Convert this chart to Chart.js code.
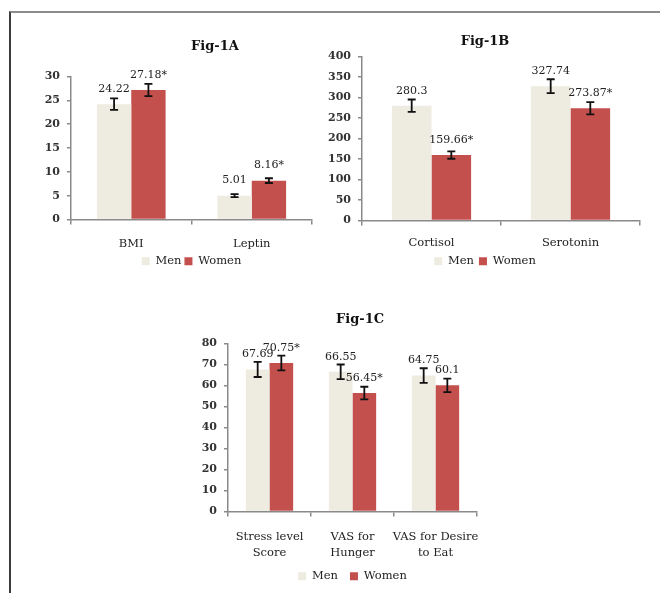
<!DOCTYPE html>
<html>
<head>
<meta charset="utf-8">
<script src="https://cdn.jsdelivr.net/npm/chart.js@4.4.1/dist/chart.umd.min.js"></script>
<style>
  html, body { margin: 0; padding: 0; background: #fff; }
  #page { position: relative; width: 660px; height: 593px; overflow: hidden; }
  #frame { position: absolute; left: 9px; top: 11px; right: -2px; bottom: -2px; border-top: 2px solid #8c8c8c; border-left: 2px solid #3c3c3c; }
  canvas { position: absolute; }
</style>
</head>
<body>
<div id="page">
  <div id="frame"></div>
  <canvas id="figA" width="390" height="257" style="left:20px;top:20px"></canvas>
  <canvas id="figB" width="350" height="257" style="left:310px;top:20px"></canvas>
  <canvas id="figC" width="400" height="292" style="left:160px;top:300px"></canvas>
</div>
<script>
// Fig-1A
const catsA = ['BMI', 'Leptin'];
const menA = [24.22, 5.01];
const womenA = [27.18, 8.16];
const menErrA = [1.2, 0.3];
const womenErrA = [1.3, 0.5];
const starsA = ['*', '*'];

// Fig-1B
const catsB = ['Cortisol', 'Serotonin'];
const menB = [280.3, 327.74];
const womenB = [159.66, 273.87];
const menErrB = [15, 17];
const womenErrB = [9, 15];
const starsB = ['*', '*'];

// Fig-1C
const catsC = [['Stress level', 'Score'], ['VAS for', 'Hunger'], ['VAS for Desire', 'to Eat']];
const menC = [67.69, 66.55, 64.75];
const womenC = [70.75, 56.45, 60.1];
const menErrC = [3.6, 3.5, 3.5];
const womenErrC = [3.5, 3, 3.2];
const starsC = ['*', '*', ''];

Chart.defaults.font.family = "'DejaVu Serif', serif";

// error bars drawn over the bars
const errorBars = {
  id: 'errorBars',
  afterDatasetsDraw(chart) {
    const ctx = chart.ctx, y = chart.scales.y;
    ctx.save();
    ctx.strokeStyle = '#111';
    ctx.lineWidth = 1.8;
    chart.data.datasets.forEach((ds, i) => {
      chart.getDatasetMeta(i).data.forEach((bar, j) => {
        const top = y.getPixelForValue(ds.data[j] + ds.errors[j]);
        const bot = y.getPixelForValue(ds.data[j] - ds.errors[j]);
        ctx.beginPath();
        ctx.moveTo(bar.x, top); ctx.lineTo(bar.x, bot);
        ctx.moveTo(bar.x - 4, top); ctx.lineTo(bar.x + 4, top);
        ctx.moveTo(bar.x - 4, bot); ctx.lineTo(bar.x + 4, bot);
        ctx.stroke();
      });
    });
    ctx.restore();
  }
};

// value labels above each bar
const valueLabels = {
  id: 'valueLabels',
  afterDatasetsDraw(chart) {
    const ctx = chart.ctx;
    ctx.save();
    ctx.font = "11px 'DejaVu Serif', serif";
    ctx.fillStyle = '#222';
    ctx.textAlign = 'center';
    ctx.textBaseline = 'middle';
    chart.data.datasets.forEach((ds, i) => {
      chart.getDatasetMeta(i).data.forEach((bar, j) => {
        ctx.fillText(ds.data[j] + ds.marks[j], bar.x, bar.y - 15);
      });
    });
    ctx.restore();
  }
};

function drawFig(id, title, cats, men, women, menErr, womenErr, stars, yMax, yStep, g) {
  const axisColor = '#8a8a8a';
  new Chart(document.getElementById(id), {
    type: 'bar',
    data: {
      labels: cats,
      datasets: [
        { label: 'Men', data: men, errors: menErr, marks: men.map(() => ''),
          backgroundColor: '#eeece1', borderWidth: 0, categoryPercentage: 0.57, barPercentage: 1 },
        { label: 'Women', data: women, errors: womenErr, marks: stars,
          backgroundColor: '#c4504d', borderWidth: 0, categoryPercentage: 0.57, barPercentage: 1 }
      ]
    },
    options: {
      responsive: false,
      animation: false,
      devicePixelRatio: 1,
      layout: { padding: 0 },
      plugins: {
        title: { display: true, text: title, color: '#111',
          font: { size: 13, weight: 'bold' },
          padding: { top: g.titleTop, bottom: g.titleBottom } },
        legend: { position: 'bottom', fullSize: g.legendFull,
          labels: { boxWidth: 8, boxHeight: 8, padding: g.legendPad, color: '#222', font: { size: 11.5 } } },
        tooltip: { enabled: false }
      },
      scales: {
        x: {
          grid: { drawOnChartArea: false, tickLength: 5, color: axisColor, lineWidth: 1.5 },
          border: { color: axisColor, width: 1.5 },
          ticks: { padding: g.xPad, color: '#222', maxRotation: 0, autoSkip: false,
            font: { size: 11.5, lineHeight: g.xLine } },
          afterFit: s => { s.height = g.xHeight; }
        },
        y: {
          min: 0, max: yMax,
          ticks: { stepSize: yStep, padding: 7, color: '#333', font: { size: 11, weight: 'bold' } },
          grid: { drawOnChartArea: false, tickLength: 4, color: axisColor, lineWidth: 1.5 },
          border: { color: axisColor, width: 1.5 },
          afterFit: s => { s.width = g.left; }
        },
        pad: {
          position: 'right',
          ticks: { display: false },
          grid: { display: false },
          border: { display: false },
          afterFit: s => { s.width = g.right; }
        }
      }
    },
    plugins: [errorBars, valueLabels]
  });
}

drawFig('figA', 'Fig-1A', catsA, menA, womenA, menErrA, womenErrA, starsA, 30, 5,
  { left: 51, right: 98, titleTop: 19, titleBottom: 22, xPad: 13, xLine: 1.2, xHeight: 33, legendPad: 3, legendFull: false });
drawFig('figB', 'Fig-1B', catsB, menB, womenB, menErrB, womenErrB, starsB, 400, 50,
  { left: 52, right: 20, titleTop: 14, titleBottom: 7, xPad: 11, xLine: 1.2, xHeight: 30, legendPad: 5, legendFull: true });
drawFig('figC', 'Fig-1C', catsC, menC, womenC, menErrC, womenErrC, starsC, 80, 10,
  { left: 68, right: 83, titleTop: 12, titleBottom: 16, xPad: 12, xLine: 1.4, xHeight: 47, legendPad: 12, legendFull: false });
</script>
</body>
</html>
